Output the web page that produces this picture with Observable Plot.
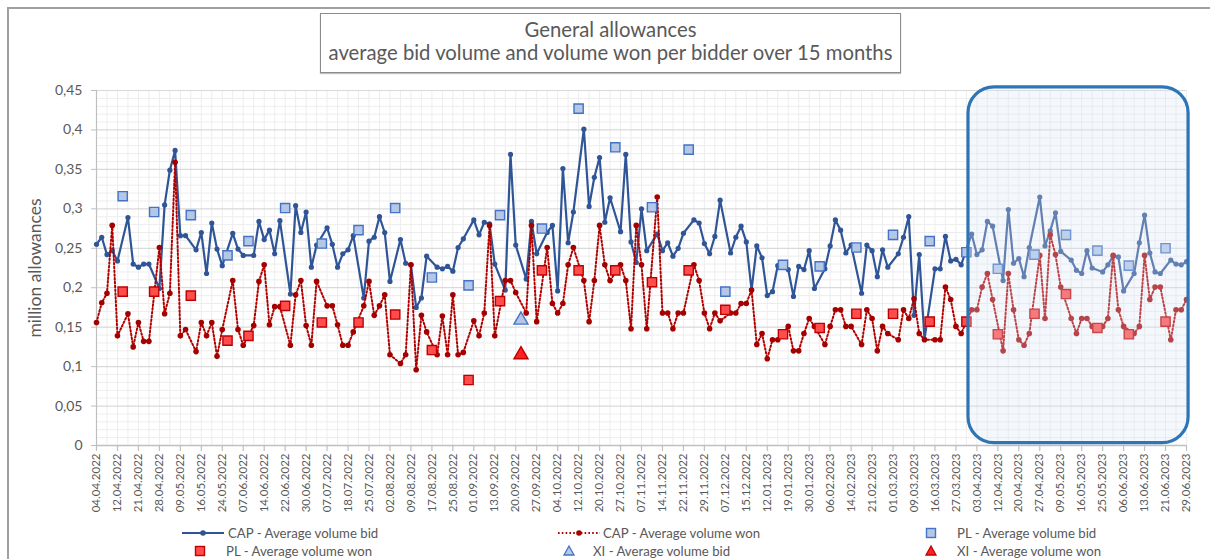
<!DOCTYPE html>
<html>
<head>
<meta charset="utf-8">
<script src="https://cdn.jsdelivr.net/npm/d3@7"></script>
<script src="https://cdn.jsdelivr.net/npm/@observablehq/plot@0.6"></script>
<style>
  html, body { margin: 0; padding: 0; background: #fff; }
  #wrap { position: relative; width: 1210px; height: 559px; overflow: hidden; background: #fff; font-family: Lato, "Open Sans", sans-serif; color: #595959; }
  #frame { position: absolute; left: 7px; top: 7px; width: 1300px; height: 700px; border-left: 2px solid #a0a0a0; border-top: 2px solid #a0a0a0; }
  #chart { position: absolute; left: 0; top: 0; }
  #title { position: absolute; left: 320px; top: 13px; width: 579px; height: 54px; border: 1px solid #8c8c8c; box-shadow: 0 1px 1px rgba(0,0,0,0.25); text-align: center; font-size: 20.3px; line-height: 23px; padding-top: 4px; box-sizing: content-box; background: #fff; }
  #legend { position: absolute; left: 0; top: 0; width: 1210px; height: 559px; pointer-events: none; }
  .lg { position: absolute; font-size: 13.2px; line-height: 16px; white-space: nowrap; }
</style>
</head>
<body>
<div id="wrap">
  <div id="frame"></div>
  <div id="chart"></div>
  <div id="title">General allowances<br>average bid volume and volume won per bidder over 15 months</div>
  <div id="legend"></div>
</div>
<script>
// ---------------- DATA ----------------
const nSlots = 209; // auction dates on the category axis
const tickLabels = ["04.04.2022","12.04.2022","21.04.2022","28.04.2022","09.05.2022","16.05.2022","24.05.2022","07.06.2022","14.06.2022","22.06.2022","30.06.2022","07.07.2022","18.07.2022","25.07.2022","02.08.2022","09.08.2022","17.08.2022","25.08.2022","01.09.2022","13.09.2022","20.09.2022","27.09.2022","04.10.2022","12.10.2022","20.10.2022","27.10.2022","07.11.2022","14.11.2022","22.11.2022","29.11.2022","07.12.2022","15.12.2022","12.01.2023","19.01.2023","30.01.2023","06.02.2023","14.02.2023","21.02.2023","01.03.2023","09.03.2023","16.03.2023","27.03.2023","03.04.2023","12.04.2023","20.04.2023","27.04.2023","09.05.2023","16.05.2023","25.05.2023","06.06.2023","13.06.2023","21.06.2023","29.06.2023"];
const labelEvery = 4;   // categories between date labels (and tick marks)
const gridEvery = 2;    // categories between vertical gridlines

// category positions of Polish (PL) and Northern Ireland (XI) auctions
const plSlots = [5,11,18,25,29,36,43,50,57,64,71,77,85,92,99,106,113,120,131,138,145,152,159,166,172,179,185,191,197,204];
const xiSlots = [81];

// CAP - average volume bid (million allowances), all remaining categories in order
const capBid = [
  0.255,0.264,0.242,0.247,0.234,
  0.289,0.230,0.226,0.230,0.230,
  0.199,0.305,0.349,0.374,0.266,0.266,
  0.248,0.270,0.218,0.282,0.249,0.228,
  0.269,0.249,0.241,
  0.241,0.284,0.261,0.273,0.243,0.285,
  0.192,0.304,0.270,0.296,0.226,0.254,
  0.276,0.255,0.226,0.243,0.248,0.266,
  0.187,0.259,0.264,0.290,0.270,0.208,
  0.261,0.231,0.229,0.175,0.187,0.240,
  0.226,0.224,0.227,0.221,0.251,0.262,
  0.286,0.267,0.283,0.281,0.230,
  0.197,0.369,0.254,
  0.211,0.284,0.243,
  0.270,0.279,0.196,0.351,0.257,0.296,
  0.401,0.303,0.340,0.365,0.283,0.314,
  0.271,0.369,0.258,0.232,0.300,0.247,
  0.268,0.247,0.257,0.240,0.250,0.269,
  0.286,0.282,0.256,0.243,0.265,0.311,
  0.244,0.264,0.278,0.258,0.197,0.253,0.238,0.190,0.195,0.228,
  0.223,0.189,0.227,0.223,0.247,0.199,
  0.224,0.253,0.286,0.273,0.244,0.254,
  0.193,0.254,0.247,0.214,0.248,0.226,
  0.243,0.264,0.290,0.165,0.242,0.135,
  0.224,0.224,0.265,0.234,0.236,0.229,
  0.268,0.242,0.248,0.284,0.278,
  0.209,0.299,0.231,0.237,0.214,0.251,
  0.315,0.253,0.272,0.295,0.246,
  0.235,0.222,0.218,0.247,0.225,
  0.220,0.229,0.240,0.239,0.196,
  0.218,0.257,0.292,0.244,0.220,0.218,
  0.235,0.230,0.229,0.233
];
// CAP - average volume won
const capWon = [
  0.156,0.181,0.193,0.279,0.139,
  0.167,0.125,0.156,0.132,0.132,
  0.251,0.167,0.193,0.359,0.139,0.147,
  0.119,0.156,0.139,0.156,0.113,0.147,
  0.209,0.147,0.127,
  0.152,0.208,0.229,0.153,0.176,0.176,
  0.127,0.191,0.209,0.152,0.127,0.208,
  0.177,0.177,0.153,0.127,0.127,0.144,
  0.177,0.208,0.165,0.177,0.191,0.115,
  0.104,0.115,0.229,0.096,0.165,0.144,
  0.115,0.164,0.115,0.191,0.115,0.118,
  0.158,0.139,0.168,0.279,0.139,
  0.209,0.209,0.194,
  0.168,0.279,0.157,
  0.251,0.180,0.168,0.180,0.229,0.251,
  0.209,0.157,0.209,0.279,0.229,0.209,
  0.229,0.209,0.148,0.279,0.229,0.148,
  0.315,0.168,0.168,0.148,0.168,0.168,
  0.229,0.209,0.168,0.148,0.168,0.158,
  0.168,0.168,0.180,0.180,0.197,0.128,0.142,0.110,0.134,0.134,
  0.151,0.120,0.120,0.142,0.161,0.151,
  0.128,0.151,0.172,0.172,0.151,0.151,
  0.128,0.172,0.161,0.120,0.151,0.142,
  0.134,0.172,0.161,0.186,0.142,0.134,
  0.134,0.134,0.201,0.185,0.151,0.142,
  0.172,0.172,0.201,0.218,0.185,
  0.120,0.218,0.172,0.134,0.127,0.142,
  0.241,0.161,0.267,0.242,0.201,
  0.161,0.142,0.161,0.161,0.151,
  0.151,0.161,0.241,0.172,0.151,
  0.142,0.151,0.241,0.185,0.201,0.201,
  0.134,0.172,0.172,0.185
];
// PL - average volume bid / won
const plBid = [0.316,0.296,0.292,0.241,0.259,0.301,0.256,0.273,0.301,0.213,0.203,0.292,0.275,0.427,0.378,0.302,0.375,0.195,0.229,0.227,0.251,0.267,0.259,0.245,0.224,0.242,0.267,0.247,0.228,0.250];
const plWon = [0.195,0.195,0.190,0.133,0.139,0.177,0.156,0.156,0.166,0.121,0.083,0.183,0.222,0.222,0.222,0.207,0.222,0.172,0.141,0.149,0.167,0.167,0.157,0.157,0.141,0.167,0.192,0.149,0.141,0.157];
// XI - average volume bid / won
const xiBid = [0.159];
const xiWon = [0.115];

const yTicks = [0,0.05,0.1,0.15,0.2,0.25,0.3,0.35,0.4,0.45];
// highlighted period (category range, value range)
const highlight = [{x1: 166.4, x2: 208.4, y1: 0.003, y2: 0.454}];

// ---------------- BUILD ----------------
const special = new Set([...plSlots, ...xiSlots]);
const capSlots = d3.range(nSlots).filter(i => !special.has(i));
const cap = capSlots.map((s, i) => ({s, bid: capBid[i], won: capWon[i]}));
const pl = plSlots.map((s, i) => ({s, bid: plBid[i], won: plWon[i]}));
const xi = xiSlots.map((s, i) => ({s, bid: xiBid[i], won: xiWon[i]}));
const labels = tickLabels.map((t, i) => ({s: i * labelEvery, t}));
const tickSlots = labels.map(d => d.s);
const vGrid = d3.range(gridEvery, nSlots, gridEvery);
const hMinor = d3.range(1, 45).filter(i => i % 5 !== 0).map(i => i / 100);
const fmt = v => v === 0 ? "0" : String(+v.toFixed(2)).replace(".", ",");

const BLUE = "#2f5597", RED = "#b00000";

const plot = Plot.plot({
  width: 1210, height: 525,
  marginLeft: 96, marginRight: 24, marginTop: 90, marginBottom: 80,
  x: {domain: [0, nSlots - 1], axis: null},
  y: {domain: [0, 0.45], axis: null},
  style: {fontFamily: "Lato, 'Open Sans', sans-serif", background: "transparent", color: "#595959"},
  marks: [
    Plot.ruleY(hMinor, {stroke: "#ededed", strokeWidth: 1}),
    Plot.ruleX(vGrid, {stroke: "#ededed", strokeWidth: 1}),
    Plot.ruleY(yTicks.slice(1), {stroke: "#d9d9d9", strokeWidth: 1.2}),
    Plot.ruleX([0], {stroke: "#bfbfbf", strokeWidth: 1.2}),
    Plot.ruleY(yTicks, {y: d => d, x1: -0.95, x2: 0, stroke: "#bfbfbf"}),
    Plot.ruleY([0], {stroke: "#bfbfbf", strokeWidth: 1.5}),
    Plot.ruleX(tickSlots, {x: d => d, y1: 0, y2: -0.0075, stroke: "#bfbfbf", strokeWidth: 1.2}),
    Plot.text(yTicks, {x: 0, y: d => d, text: fmt, textAnchor: "end", dx: -14, fontSize: 14, fill: "#595959"}),
    Plot.text(labels, {x: "s", y: 0, text: "t", rotate: -90, textAnchor: "end", dy: 8, fontSize: 11.5, fill: "#595959"}),
    Plot.text(["million allowances"], {frameAnchor: "left", textAnchor: "middle", dx: -61, rotate: -90, fontSize: 17.5, fill: "#595959"}),
    // CAP bid
    Plot.line(cap, {x: "s", y: "bid", stroke: BLUE, strokeWidth: 2.2}),
    Plot.dot(cap, {x: "s", y: "bid", r: 2.6, fill: BLUE}),
    // CAP won
    Plot.line(cap, {x: "s", y: "won", stroke: RED, strokeWidth: 2, strokeDasharray: "1.6,2.2"}),
    Plot.dot(cap, {x: "s", y: "won", r: 2.8, fill: "#a50000"}),
    // PL
    Plot.dot(pl, {x: "s", y: "bid", symbol: "square", r: 5.2, fill: "#b4c7e7", stroke: "#4472c4", strokeWidth: 1.4}),
    Plot.dot(pl, {x: "s", y: "won", symbol: "square", r: 5.2, fill: "#ff4d4d", stroke: "#c00000", strokeWidth: 1.4}),
    // XI
    Plot.dot(xi, {x: "s", y: "bid", symbol: "triangle", r: 5.2, fill: "#b4c7e7", stroke: "#4472c4", strokeWidth: 1.4}),
    Plot.dot(xi, {x: "s", y: "won", symbol: "triangle", r: 5.2, fill: "#ff2020", stroke: "#c00000", strokeWidth: 1.4}),
    // highlighted period
    Plot.rect(highlight, {x1: "x1", x2: "x2", y1: "y1", y2: "y2", fill: "#dae3f3", fillOpacity: 0.3, stroke: "#2e75b6", strokeWidth: 3.2, rx: 26})
  ]
});
d3.select(plot).selectAll("g[stroke='#2e75b6'] rect, rect[stroke='#2e75b6']").attr("rx", 26).attr("ry", 26);
document.getElementById("chart").appendChild(plot);

// ---------------- LEGEND ----------------
const legendItems = [
  {label: "CAP - Average volume bid", kind: "line", color: BLUE, ix: 203, tx: 228, y: 533},
  {label: "CAP - Average volume won", kind: "dotted", color: RED, ix: 579, tx: 603, y: 533},
  {label: "PL - Average volume bid", kind: "square", fill: "#b4c7e7", color: "#4472c4", ix: 931, tx: 957, y: 533},
  {label: "PL - Average volume won", kind: "square", fill: "#ff4d4d", color: "#c00000", ix: 200, tx: 226, y: 551},
  {label: "XI - Average volume bid", kind: "triangle", fill: "#b4c7e7", color: "#4472c4", ix: 569, tx: 593, y: 551},
  {label: "XI - Average volume won", kind: "triangle", fill: "#ff2020", color: "#c00000", ix: 931, tx: 957, y: 551}
];
const lg = d3.select("#legend");
const lsvg = lg.append("svg").attr("width", 1210).attr("height", 559).style("position", "absolute").style("left", 0).style("top", 0);
for (const it of legendItems) {
  const g = lsvg.append("g").attr("transform", `translate(${it.ix},${it.y})`);
  if (it.kind === "line" || it.kind === "dotted") {
    g.append("line").attr("x1", -21).attr("x2", 21).attr("stroke", it.color).attr("stroke-width", it.kind === "line" ? 2.2 : 2)
      .attr("stroke-dasharray", it.kind === "dotted" ? "1.6,2.2" : null);
    g.append("circle").attr("r", 2.8).attr("fill", it.kind === "line" ? BLUE : "#a50000");
  } else if (it.kind === "square") {
    g.append("rect").attr("x", -4.5).attr("y", -4.5).attr("width", 9).attr("height", 9).attr("fill", it.fill).attr("stroke", it.color).attr("stroke-width", 1.4);
  } else {
    g.append("path").attr("d", "M0,-5L5,4L-5,4Z").attr("fill", it.fill).attr("stroke", it.color).attr("stroke-width", 1.3);
  }
  lg.append("div").attr("class", "lg").style("left", it.tx + "px").style("top", (it.y - 8) + "px").text(it.label);
}
</script>
</body>
</html>
